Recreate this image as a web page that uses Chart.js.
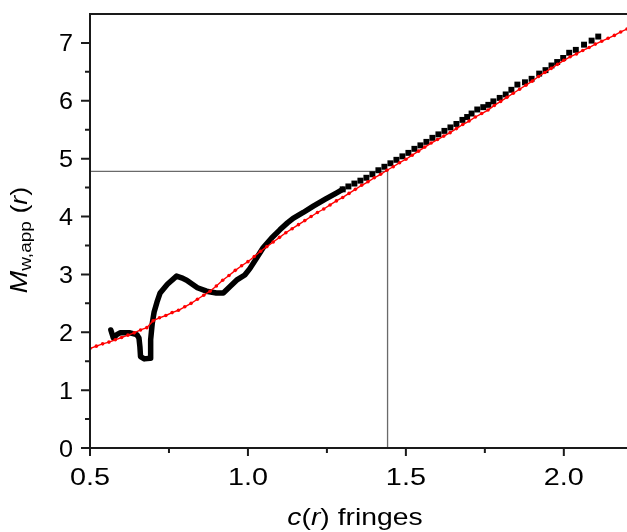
<!DOCTYPE html>
<html><head><meta charset="utf-8">
<script src="https://cdn.jsdelivr.net/npm/chart.js@4"></script>
<style>html,body{margin:0;padding:0;background:#fff}canvas{display:block}</style>
</head><body>
<canvas id="c" width="627" height="532"></canvas>
<script>
// Black series: M_w,app(r) measured (x = c(r) fringes)
const blackX = [0.566,0.574,0.585,0.595,0.627,0.648,0.655,0.658,0.660,0.672,0.690,0.692,0.697,0.703,0.712,0.722,0.745,0.774,0.790,0.806,0.840,0.869,0.900,0.922,0.945,0.964,0.990,1.006,1.027,1.048,1.075,1.101,1.125,1.143,1.175,1.207,1.245,1.281,
  1.300,1.318,1.337,1.356,1.375,1.394,1.413,1.432,1.451,1.470,1.489,1.508,1.527,1.546,1.565,1.584,1.603,1.622,1.641,1.660,1.679,1.694,1.708,1.726,1.745,1.761,1.777,1.797,1.816,1.834,1.853,1.877,1.898,1.922,1.942,1.961,1.979,1.998,2.017,2.038,2.064,2.088,2.109];
const blackY = [2.04,1.90,1.96,1.99,1.99,1.96,1.90,1.75,1.58,1.54,1.55,1.87,2.15,2.35,2.52,2.68,2.83,2.97,2.94,2.90,2.77,2.71,2.68,2.68,2.80,2.90,2.99,3.10,3.28,3.46,3.63,3.77,3.89,3.97,4.07,4.18,4.30,4.41,
  4.47,4.52,4.57,4.62,4.67,4.73,4.80,4.86,4.92,4.98,5.04,5.10,5.17,5.23,5.29,5.36,5.42,5.48,5.54,5.60,5.67,5.72,5.78,5.85,5.89,5.93,5.99,6.05,6.11,6.19,6.28,6.32,6.38,6.47,6.53,6.61,6.67,6.74,6.83,6.88,6.97,7.04,7.11];
// Red series: fitted curve
const redX = [0.50,0.52,0.54,0.56,0.58,0.60,0.62,0.64,0.66,0.68,0.70,0.72,0.74,0.76,0.78,0.80,0.82,0.84,0.86,0.88,0.90,0.92,0.94,0.96,0.98,1.00,1.02,1.04,1.06,1.08,1.10,1.12,1.14,1.16,1.18,1.20,1.22,1.24,1.26,1.28,1.30,1.32,1.34,1.36,1.38,1.40,1.42,1.44,1.46,1.48,1.50,1.52,1.54,1.56,1.58,1.60,1.62,1.64,1.66,1.68,1.70,1.72,1.74,1.76,1.78,1.80,1.82,1.84,1.86,1.88,1.90,1.92,1.94,1.96,1.98,2.00,2.02,2.04,2.06,2.08,2.10,2.12,2.14,2.16,2.18,2.20];
const redY = [1.72,1.76,1.80,1.83,1.87,1.91,1.95,1.99,2.04,2.08,2.20,2.25,2.29,2.34,2.38,2.44,2.50,2.57,2.64,2.71,2.80,2.90,2.98,3.07,3.15,3.22,3.31,3.40,3.48,3.56,3.64,3.72,3.79,3.86,3.93,4.00,4.07,4.13,4.20,4.27,4.33,4.40,4.47,4.54,4.60,4.67,4.73,4.80,4.86,4.93,4.99,5.06,5.13,5.20,5.27,5.33,5.39,5.45,5.52,5.59,5.65,5.72,5.78,5.84,5.92,5.99,6.06,6.13,6.20,6.27,6.34,6.42,6.49,6.56,6.63,6.70,6.76,6.81,6.87,6.92,6.98,7.03,7.08,7.13,7.19,7.24];
// Gray guide lines
const refX = [0.5, 1.442, 1.442];
const refY = [4.78, 4.78, 0];
// Axis ticks
const xMajor = [0.5, 1.0, 1.5, 2.0];
const xLabels = ['0.5', '1.0', '1.5', '2.0'];
const xMinor = [0.75, 1.25, 1.75];
const yMajor = [0, 1, 2, 3, 4, 5, 6, 7];
const yLabels = ['0', '1', '2', '3', '4', '5', '6', '7'];
const yMinor = [0.5, 1.5, 2.5, 3.5, 4.5, 5.5, 6.5];

const FONT = "'Liberation Sans', Arial, sans-serif";
const zip = (xs, ys) => xs.map((x, i) => ({x, y: ys[i]}));
const SPLIT = 1.295;

function drawParts(ctx, parts, sx) {
  let w = 0;
  parts.forEach(p => { ctx.font = p[1] + ' ' + FONT; w += ctx.measureText(p[0]).width; });
  ctx.scale(sx, 1);
  let cx = -w / 2;
  parts.forEach(p => { ctx.font = p[1] + ' ' + FONT; ctx.fillText(p[0], cx, p[2]); cx += ctx.measureText(p[0]).width; });
}

const axesPlugin = {
  id: 'axesPlugin',
  afterDatasetsDraw(chart) {
    const {ctx, chartArea: a, scales: {x, y}} = chart;
    ctx.save();
    ctx.strokeStyle = '#1a1a1a';
    ctx.lineWidth = 2;
    ctx.beginPath();
    ctx.moveTo(a.left, a.top); ctx.lineTo(a.right, a.top);
    ctx.moveTo(a.left, a.top - 1); ctx.lineTo(a.left, a.bottom + 1);
    ctx.moveTo(a.left - 1, a.bottom); ctx.lineTo(a.right, a.bottom);
    xMajor.forEach(v => { const p = x.getPixelForValue(v); ctx.moveTo(p, a.bottom); ctx.lineTo(p, a.bottom + 8); });
    xMinor.forEach(v => { const p = x.getPixelForValue(v); ctx.moveTo(p, a.bottom); ctx.lineTo(p, a.bottom + 5); });
    yMajor.forEach(v => { const p = y.getPixelForValue(v); ctx.moveTo(a.left, p); ctx.lineTo(a.left - 9, p); });
    yMinor.forEach(v => { const p = y.getPixelForValue(v); ctx.moveTo(a.left, p); ctx.lineTo(a.left - 5, p); });
    ctx.stroke();
    ctx.restore();
  },
  afterDraw(chart) {
    const {ctx, chartArea: a, scales: {x, y}} = chart;
    ctx.save();
    ctx.fillStyle = '#000';
    ctx.textBaseline = 'alphabetic';
    ctx.font = '24px ' + FONT;
    xMajor.forEach((v, i) => {
      ctx.save();
      ctx.translate(x.getPixelForValue(v), a.bottom + 37);
      ctx.scale(1.2, 1);
      ctx.textAlign = 'center';
      ctx.fillText(xLabels[i], 0, 0);
      ctx.restore();
    });
    yMajor.forEach((v, i) => {
      ctx.save();
      ctx.translate(a.left - 17, y.getPixelForValue(v) + 8.5);
      ctx.scale(1.05, 1);
      ctx.textAlign = 'right';
      ctx.fillText(yLabels[i], 0, 0);
      ctx.restore();
    });
    ctx.save();
    ctx.translate(355, 525);
    drawParts(ctx, [['c', 'italic 24px', 0], ['(', '24px', 0], ['r', 'italic 24px', 0], [') fringes', '24px', 0]], 1.18);
    ctx.restore();
    ctx.save();
    ctx.translate(27, 240);
    ctx.rotate(-Math.PI / 2);
    drawParts(ctx, [['M', 'italic 24px', 0], ['w,app', '17px', 4], [' (', '24px', 0], ['r', 'italic 24px', 0], [')', '24px', 0]], 1.12);
    ctx.restore();
    ctx.restore();
  }
};

new Chart(document.getElementById('c'), {
  type: 'scatter',
  data: {
    datasets: [
      {
        label: 'fit', order: 0,
        data: zip(redX, redY),
        showLine: true, borderColor: '#ff0000', borderWidth: 1.4,
        pointRadius: 1.8, pointBackgroundColor: '#ff0000', pointBorderWidth: 0,
        pointStyle: 'circle'
      },
      {
        label: 'data', order: 1,
        data: zip(blackX, blackY),
        showLine: true, borderColor: '#000', borderWidth: 5.5,
        borderJoinStyle: 'round', borderCapStyle: 'round',
        segment: { borderColor: c => c.p0.parsed.x >= SPLIT ? 'rgba(0,0,0,0)' : '#000' },
        pointStyle: 'rect',
        pointRadius: c => (c.raw && c.raw.x >= SPLIT) ? 4.2 : 0,
        pointBackgroundColor: '#000', pointBorderWidth: 0
      },
      {
        label: 'guide', order: 2,
        data: zip(refX, refY),
        showLine: true, borderColor: '#6a6a6a', borderWidth: 1.3,
        pointRadius: 0
      }
    ]
  },
  options: {
    responsive: false, animation: false, devicePixelRatio: 1,
    layout: { autoPadding: false, padding: { top: 14, right: 0, left: 0, bottom: 0 } },
    plugins: { legend: { display: false }, tooltip: { enabled: false } },
    scales: {
      x: {
        type: 'linear', min: 0.5, max: 2.2,
        grid: { display: false }, border: { display: false },
        afterFit: s => { s.height = 84; },
        ticks: { display: false, includeBounds: false, stepSize: 0.5 }
      },
      y: {
        type: 'linear', min: 0, max: 7.5,
        grid: { display: false }, border: { display: false },
        afterFit: s => { s.width = 90; },
        ticks: { display: false, includeBounds: false, stepSize: 1 }
      }
    }
  },
  plugins: [axesPlugin]
});
</script>
</body></html>
